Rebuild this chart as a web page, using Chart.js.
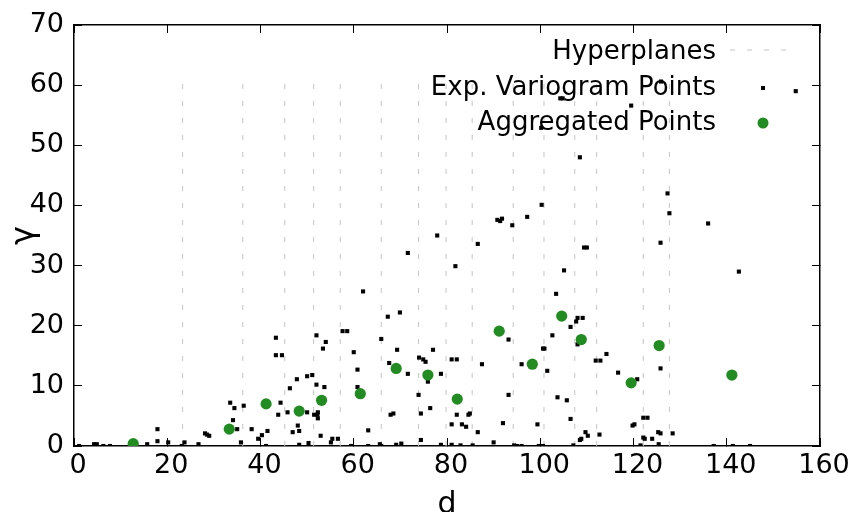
<!DOCTYPE html>
<html>
<head>
<meta charset="utf-8">
<title>Variogram</title>
<script src="https://cdn.jsdelivr.net/npm/chart.js@4.4.1/dist/chart.umd.min.js"></script>
<style>
    html, body { margin: 0; padding: 0; background: #fff; }
    #wrap { width: 849px; height: 512px; }
</style>
</head>
<body>
<div id="wrap"><canvas id="variogramChart" width="849" height="512"></canvas></div>
<script>
// Experimental variogram points (lag distance d, semivariance gamma)
const variogramD = [
    1.1, 4.3, 4.9, 6.3, 7.7, 15.7, 17.9, 17.9, 20.2, 23.1,
    23.7, 26.7, 28.1, 28.5, 29.0, 33.5, 34.4, 36.4, 34.1, 35.0,
    35.8, 38.1, 39.5, 40.3, 41.5, 41.2, 43.3, 43.3, 44.6, 44.3,
    43.8, 45.8, 46.3, 47.8, 50.0, 51.1, 46.9, 48.0, 48.3, 48.3,
    50.3, 50.0, 51.5, 52.2, 52.3, 52.3, 52.0, 54.0, 53.4, 52.0,
    53.7, 52.9, 55.1, 55.4, 56.6, 57.6, 58.6, 60.0, 60.8, 60.8,
    62.0, 59.4, 63.1, 63.1, 65.9, 67.3, 69.9, 69.3, 67.6, 71.6,
    67.9, 68.5, 65.6, 65.9, 69.1, 70.2, 74.0, 74.9, 75.4, 77.0,
    75.9, 78.7, 73.9, 74.4, 76.4, 74.4, 78.7, 81.0, 82.1, 82.1,
    81.0, 81.0, 81.8, 83.2, 84.1, 84.6, 84.9, 86.6, 85.5, 82.9,
    86.6, 87.5, 90.8, 91.4, 91.8, 94.0, 97.2, 100.3, 93.2, 93.2,
    92.0, 90.0, 94.4, 95.0, 96.0, 96.0, 99.4, 99.7, 100.6, 100.6,
    100.9, 101.5, 102.6, 103.4, 105.1, 109.4, 110.0, 106.5, 107.7, 108.0,
    109.1, 108.0, 103.7, 105.7, 106.5, 107.1, 108.5, 108.8, 109.7, 110.2,
    112.7, 111.9, 112.9, 114.2, 116.7, 120.8, 119.8, 120.2, 127.3, 127.7,
    136.0, 125.8, 142.6, 125.8, 122.1, 123.0, 122.1, 122.4, 124.0, 125.3,
    125.8, 128.4, 121.5, 125.4, 137.2, 141.3, 145.0, 104.3, 104.8, 119.5,
    100.2, 108.5, 125.9, 154.8, 77.9, 71.6
];
const variogramGamma = [
    0, 0.3, 0.3, 0, 0, 0.3, 2.8, 0.8, 0.6, 0,
    0.6, 0.3, 2.1, 1.9, 1.7, 7.2, 6.3, 6.7, 4.3, 2.8,
    0.6, 2.8, 1.2, 1.8, 2.5, 0, 18.0, 15.1, 15.1, 7.2,
    5.2, 5.6, 9.6, 11.1, 11.6, 11.8, 2.3, 3.4, 2.5, 0.2,
    0.5, 5.6, 5.2, 5.2, 5.6, 4.6, 18.4, 17.3, 16.2, 10.2,
    9.8, 1.7, 0.6, 1.2, 1.2, 19.1, 19.1, 15.6, 12.7, 9.8,
    25.7, 0, 2.6, 0, 17.8, 21.5, 22.2, 16.0, 13.8, 12.0,
    5.2, 5.4, 0.3, 0, 0.2, 0.4, 14.7, 14.4, 14.0, 16.0,
    10.7, 12.0, 8.5, 5.4, 6.3, 1.0, 0.2, 14.4, 14.4, 5.2,
    3.6, 0.2, 29.9, 3.6, 3.2, 5.2, 5.4, 2.3, 0.1, 0.1,
    33.6, 13.6, 37.6, 37.4, 37.8, 36.7, 38.1, 40.1, 17.7, 8.5,
    3.8, 0.6, 0.1, 0, 0, 13.6, 3.6, 0, 0, 16.2,
    16.2, 12.5, 18.4, 25.3, 29.2, 33.0, 33.0, 19.8, 20.7, 21.3,
    21.3, 16.9, 8.1, 7.6, 4.5, 0.1, 1.0, 1.2, 2.3, 1.7,
    1.9, 14.2, 14.2, 15.3, 12.2, 11.1, 3.4, 3.6, 42.0, 38.7,
    37.0, 33.8, 29.0, 12.9, 4.7, 4.7, 1.4, 1.2, 1.2, 2.3,
    2.1, 2.1, 0.1, 0.3, 0, 0, 0, 57.8, 57.8, 56.6,
    52.9, 48.0, 60.6, 59.0, 35.0, 32.1
];

// Aggregated points (one per bin)
const aggregatedD = [12.7, 33.3, 41.2, 48.3, 53.1, 61.4, 69.1, 75.9, 82.2, 91.2, 98.3, 104.6, 108.8, 119.5, 125.5, 141.1];
const aggregatedGamma = [0.4, 2.8, 7.0, 5.8, 7.6, 8.7, 12.9, 11.8, 7.8, 19.1, 13.6, 21.6, 17.7, 10.5, 16.7, 11.8];

// Hyperplane positions on d, drawn from 0 up to the largest gamma
const hyperplanes = [23.3, 36.2, 45.2, 51.4, 57.1, 65.9, 73.9, 79.8, 85.4, 94.2, 100.8, 107.4, 112.1, 122.1, 127.7];
const hyperplaneTop = Math.max(...variogramGamma);

const legendLabels = ['Hyperplanes', 'Exp. Variogram Points', 'Aggregated Points'];

const FONT = "'DejaVu Sans', sans-serif";
const GREEN = '#228b22';
const DASH = '#c4c4c4';

// Key in the top right corner, gnuplot style
const keyPlugin = {
    id: 'variogramKey',
    afterDraw(chart) {
        const { ctx, chartArea: a } = chart;
        const textRight = a.right - 104;
        const sampleX = a.right - 57;
        const rows = [a.top + 27, a.top + 63, a.top + 98];
        ctx.save();
        ctx.font = '26px ' + FONT;
        ctx.fillStyle = '#000';
        ctx.textAlign = 'right';
        ctx.textBaseline = 'middle';
        legendLabels.forEach((txt, i) => ctx.fillText(txt, textRight, rows[i]));

        ctx.strokeStyle = DASH;
        ctx.lineWidth = 1;
        ctx.setLineDash([5, 12]);
        ctx.beginPath();
        ctx.moveTo(sampleX - 33, rows[0] - 2);
        ctx.lineTo(sampleX + 30, rows[0] - 2);
        ctx.stroke();
        ctx.setLineDash([]);

        ctx.fillStyle = '#000';
        ctx.fillRect(sampleX - 2, rows[1] - 2, 4, 4);
        ctx.fillStyle = GREEN;
        ctx.beginPath();
        ctx.arc(sampleX, rows[2], 5.5, 0, Math.PI * 2);
        ctx.fill();
        ctx.restore();
    }
};

// Variogram Chart
const hyperplaneSets = hyperplanes.map(h => ({
    type: 'line',
    data: [{ x: h, y: 0 }, { x: h, y: hyperplaneTop }],
    borderColor: DASH,
    borderWidth: 1,
    borderDash: [5, 12],
    pointRadius: 0,
    order: 3
}));

const tickFont = { family: FONT, size: 27 };
const frameBorder = { display: true, color: '#000', width: 1.5 };
// inward tick marks only, no grid lines
const frameGrid = { display: true, drawOnChartArea: false, drawTicks: true, tickLength: -8, color: '#000', lineWidth: 1 };

// fixed box sizes; label overhang is left to the layout padding
function fixHeight(h) {
    return function (scale) {
        scale.height = h;
        scale.paddingLeft = 0;
        scale.paddingRight = 0;
    };
}
function fixWidth(w) {
    return function (scale) {
        scale.width = w;
        scale.paddingTop = 0;
        scale.paddingBottom = 0;
    };
}

const chartCtx = document.getElementById('variogramChart').getContext('2d');
new Chart(chartCtx, {
    type: 'scatter',
    data: {
        datasets: [
            {
                label: 'Aggregated Points',
                data: aggregatedD.map((d, i) => ({ x: d, y: aggregatedGamma[i] })),
                backgroundColor: GREEN,
                borderWidth: 0,
                pointRadius: 5.6,
                order: 0
            },
            {
                label: 'Exp. Variogram Points',
                data: variogramD.map((d, i) => ({ x: d, y: variogramGamma[i] })),
                backgroundColor: '#000',
                borderWidth: 0,
                pointStyle: 'rect',
                pointRadius: 2.9,
                order: 1
            },
            ...hyperplaneSets
        ]
    },
    options: {
        responsive: false,
        devicePixelRatio: 1,
        animation: false,
        layout: { padding: { top: 25, right: 29, left: 0, bottom: 0 } },
        plugins: {
            legend: { display: false },
            tooltip: { enabled: false }
        },
        scales: {
            x: {
                type: 'linear',
                position: 'bottom',
                min: 0,
                max: 160,
                grid: frameGrid,
                border: frameBorder,
                ticks: {
                    stepSize: 20,
                    color: '#000',
                    padding: 12,
                    labelOffset: 4,
                    maxRotation: 0,
                    font: tickFont
                },
                title: {
                    display: true,
                    text: 'd',
                    color: '#000',
                    font: { family: FONT, size: 30 },
                    padding: { top: 0, bottom: -11 }
                },
                afterFit: fixHeight(66)
            },
            xTop: {
                type: 'linear',
                position: 'top',
                min: 0,
                max: 160,
                grid: frameGrid,
                border: frameBorder,
                ticks: { stepSize: 20, display: false },
                afterFit: fixHeight(0)
            },
            y: {
                type: 'linear',
                position: 'left',
                min: 0,
                max: 70,
                grid: frameGrid,
                border: frameBorder,
                ticks: {
                    stepSize: 10,
                    color: '#000',
                    padding: 18,
                    font: tickFont
                },
                title: {
                    display: true,
                    text: 'γ',
                    color: '#000',
                    font: { family: FONT, size: 32 },
                    padding: { top: 5, bottom: 0 }
                },
                afterFit: fixWidth(74)
            },
            yRight: {
                type: 'linear',
                position: 'right',
                min: 0,
                max: 70,
                grid: frameGrid,
                border: frameBorder,
                ticks: { stepSize: 10, display: false },
                afterFit: fixWidth(0)
            }
        }
    },
    plugins: [keyPlugin]
});
</script>
</body>
</html>
